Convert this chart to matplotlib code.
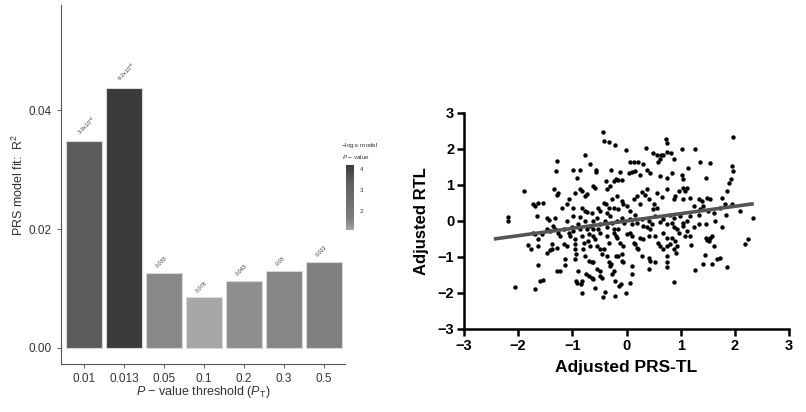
import matplotlib
matplotlib.use("Agg")
import matplotlib.pyplot as plt
import numpy as np
from matplotlib.colors import LinearSegmentedColormap, Normalize

plt.rcParams['font.family'] = ['Liberation Sans', 'DejaVu Sans']
plt.rcParams['mathtext.fontset'] = 'custom'
plt.rcParams['mathtext.rm'] = 'Liberation Sans'
plt.rcParams['mathtext.it'] = 'Liberation Sans:italic'

# ---- bar panel data ----
thresholds = ['0.01', '0.013', '0.05', '0.1', '0.2', '0.3', '0.5']
r2 = [0.0348, 0.0438, 0.0126, 0.0085, 0.0113, 0.0129, 0.0145]
p_labels = [r'3.8x10$^{-4}$', r'6.2x10$^{-5}$', '0.033', '0.078', '0.043', '0.03', '0.022']
p_values = [3.8e-4, 6.2e-5, 0.033, 0.078, 0.043, 0.03, 0.022]

# ---- scatter panel data ----
prs_tl = [
    -0.43, -0.41, -0.33, -0.21, -0.01, 0.36, 0.73, 0.75, 1.97, 1.02, 1.27, -0.76,
    -1.29, -1.30, -0.68, -0.57, -0.28, -0.98, -0.86, -0.92, -0.56, 0.07, 0.13, 0.22,
    0.31, 0.49, 0.56, 0.63, 0.68, 0.75, 0.82, 0.62, 0.59, 0.87, 1.35, 1.55, 1.95,
    1.97, 1.92, 1.89, 1.85, 1.46, 1.13, 1.02, 1.05, 0.84, 0.62, 0.75, 0.38, 0.44,
    0.10, 0.16, 0.25, 0.04, -0.12, -0.19, -0.15, -0.09, -0.24, -0.38, -0.30, -0.36,
    -0.61, -0.58, -0.86, -0.83, -0.95, -0.73, -0.76, -1.89, -1.34, -1.26, -1.29,
    -1.73, -1.69, -1.63, -1.55, -1.20, -2.18, -2.18, -1.66, -1.47, -1.44, -1.32,
    -1.10, -0.98, -0.86, -0.73, -0.64, -0.52, -0.49, -0.41, -0.38, -0.27, -0.24,
    -0.18, -0.09, -0.06, 0.01, 0.07, 0.13, 0.20, 0.28, 0.35, 0.41, 0.50, 0.38,
    0.56, 0.65, 0.75, 0.87, 0.90, 0.96, 1.05, 1.08, 1.11, 1.04, 1.17, 1.24, 1.33,
    1.39, 1.48, 1.55, 1.76, 1.82, 1.84, 1.42, 1.51, 1.73, 1.95, 2.09, 2.33, 1.61,
    1.33, 1.18, 1.11, 0.99, 1.05, 0.81, 0.87, 0.84, 0.68, 0.75, 0.53, 0.62, 0.41,
    0.47, 0.28, 0.31, 0.16, 0.19, 0.07, 0.10, -0.09, -0.04, -0.18, -0.15, -0.30,
    -0.27, -0.24, -0.39, -0.36, -0.49, -0.55, -0.67, -0.61, -0.76, -0.89, -0.86,
    -1.01, -0.98, -1.07, -1.04, -1.16, -1.26, -1.23, -1.35, -1.32, -1.47, -1.41,
    -1.56, -1.63, -1.72, -1.69, -1.63, -1.82, -1.76, -1.38, -1.29, -1.38, -1.16,
    -1.10, -1.47, -1.41, -1.64, -1.13, -1.13, -1.29, -1.23, -1.69, -1.60, -1.55,
    -2.05, -0.95, -0.95, -0.95, -0.93, -0.95, -0.83, -0.79, -0.81, -0.72, -0.68,
    -0.76, -0.70, -0.64, -0.61, -0.89, -0.93, -0.92, -0.84, -0.83, -0.83, -0.75,
    -0.70, -0.64, -0.61, -0.55, -0.49, -0.49, -0.46, -0.58, -0.43, -0.39, -0.55,
    -0.49, -0.46, -0.62, -0.58, -0.36, -0.33, -0.42, -0.36, -0.33, -0.31, -0.29,
    -0.24, -0.27, -0.19, -0.15, -0.09, -0.21, -0.13, -0.10, -0.21, -0.01, -0.18,
    -0.12, -0.06, -0.24, -0.19, -0.09, -0.06, 0.10, 0.10, 0.07, 0.01, 0.07, 0.10,
    0.13, 0.19, 0.16, 0.22, 0.25, 0.31, 0.38, 0.44, 0.41, 0.28, 0.41, 0.44, 0.53,
    0.41, 0.53, 0.59, 0.62, 0.68, 0.75, 0.68, 0.75, 0.80, 0.75, 0.75, 0.75, 0.87,
    0.93, 0.84, 0.90, 0.94, 0.87, 0.92, 1.05, 1.11, 1.08, 0.96, 1.18, 1.24, 1.19,
    0.87, 1.27, 1.42, 1.58, 1.44, 1.67, 1.72, 1.85, 1.46, 1.49, 1.52, 1.55, 1.58,
    1.47, 1.61, 1.76, 2.19, 2.25, 1.64, 1.33, 1.36, 0.49, 0.57, 0.25, -0.15, -0.36,
    -0.33, -0.83, -0.76, -0.98, -1.07, -1.10, -0.73, -0.70, -0.52, -0.49, -0.61,
]
rtl = [
    2.46, 2.22, 2.19, 2.10, 1.97, 2.03, 2.29, 2.17, 2.34, 2.01, 2.01, 1.82,
    1.68, 1.38, 1.57, 1.43, 1.43, 1.43, 1.43, 1.20, 1.36, 1.63, 1.63, 1.63,
    1.57, 1.89, 1.82, 1.82, 1.82, 1.91, 1.88, 1.71, 1.63, 1.71, 1.63, 1.60, 1.52,
    1.39, 1.17, 1.06, 0.83, 1.20, 1.48, 1.29, 1.17, 1.32, 1.25, 1.20, 1.43, 1.34,
    1.36, 1.39, 1.27, 1.32, 1.36, 1.17, 1.14, 1.15, 1.11, 1.11, 0.97, 0.88,
    0.97, 0.92, 0.88, 0.83, 0.78, 0.74, 0.69, 0.83, 0.88, 0.78, 0.71,
    0.46, 0.42, 0.51, 0.49, 0.37, 0.12, 0.00, 0.14, 0.09, 0.03, 0.09,
    0.00, 0.14, 0.12, 0.25, 0.21, 0.37, 0.28, 0.51, 0.46, 0.60, 0.37,
    0.69, 0.55, 0.46, 0.42, 0.28, 0.60, 0.69, 0.80, 0.71, 0.60, 0.46, 0.88,
    0.78, 0.67, 0.88, 0.60, 0.69, 0.83, 0.92, 0.83, 0.92, 0.60, 0.65, 0.42, 0.60,
    0.55, 0.65, 0.60, 0.65, 0.46, 0.18, 0.42, 0.28, 0.37, 0.46, 0.28, 0.09, 0.23,
    0.18, 0.14, 0.00, 0.14, -0.05, 0.18, 0.09, -0.05, 0.05, -0.09, 0.14, -0.03, 0.00,
    -0.09, 0.05, -0.14, 0.18, -0.05, 0.05, -0.09, 0.09, -0.05, 0.00, -0.23, 0.14,
    -0.05, -0.23, 0.00, -0.18, -0.09, 0.09, -0.14, -0.23, 0.00, -0.09, -0.23,
    -0.18, -0.28, -0.32, -0.42, -0.23, -0.32, -0.42, -0.14, -0.23, -0.23, -0.28,
    -0.37, -0.51, -0.32, -0.37, -0.69, -0.67, -0.78, -0.65, -0.74, -0.78, -0.65,
    -0.69, -0.88, -0.80, -1.23, -1.06, -1.23, -1.39, -1.39, -1.88, -1.66, -1.63,
    -1.82, -0.51, -0.65, -0.78, -0.92, -1.06, -0.42, -0.60, -0.78, -0.55, -0.69,
    -0.97, -1.11, -1.15, -1.15, -1.39, -1.66, -1.71, -1.75, -1.66, -2.00, -1.48,
    -1.52, -1.57, -1.62, -1.34, -1.39, -1.52, -1.57, -1.85, -2.10, -1.97, -0.69,
    -0.78, -0.92, -0.42, -0.51, -0.42, -0.60, -0.78, -0.97, -1.15, -1.25, -1.20,
    -1.39, -1.48, -0.97, -0.97, -0.92, -1.66, -1.80, -1.75, -2.08, -2.01, -0.46,
    -0.60, -0.69, -0.32, -0.42, -1.11, -1.15, -1.25, -1.48, -1.71, -0.37, -0.32,
    -0.42, -0.60, -0.74, -0.65, -0.78, -0.46, -0.51, -0.18, -0.23, -0.42, -0.97,
    -1.02, -1.11, -1.15, -1.34, -0.42, -0.60, -0.69, -0.32, -0.46, -0.78, -0.69,
    -0.65, -0.97, -1.15, -1.29, -0.18, -0.23, -0.46, -0.55, -0.69, -0.77, -0.88,
    -0.14, -0.28, -0.42, -0.32, -0.42, -0.18, -0.67, -1.69, -1.36, -1.20, -1.20,
    -0.95, -1.06, -1.02, -1.29, -0.46, -0.52, -0.55, -0.46, -0.42, -0.09, -0.69,
    -0.18, -0.65, -0.51, 0.00, -0.09, 0.32, 0.32, 0.37, 0.46, 0.32, 0.23, 0.37,
    0.37, 0.28, 0.37, 0.60, 0.46, -0.23, -0.37, -0.23, -0.32, 0.00,
]
fit_x = [-2.45, 2.35]
fit_y = [-0.50, 0.48]

fig = plt.figure(figsize=(8.06, 4.12), dpi=100)

# ---------------- left: bar chart ----------------
ax1 = fig.add_axes([61 / 806, 48 / 412, 284 / 806, 359 / 412])
neglog = -np.log10(p_values)
vmin, vmax = neglog.min(), neglog.max()
# grey ramp, brightness picked off the reference bars
nodes = [(0.0, '#a6a6a6'), (0.09, '#8c8c8c'), (0.2, '#7c7c7c'),
         (0.74, '#5e5e5e'), (1.0, '#3a3a3a')]
cmap = LinearSegmentedColormap.from_list('greys_pt', nodes)
norm = Normalize(vmin=vmin, vmax=vmax)
xpos = np.arange(len(thresholds))
ax1.bar(xpos, r2, width=0.9, color=cmap(norm(neglog)), edgecolor='#d8d8d8', linewidth=0.8)
for x, h, lab in zip(xpos, r2, p_labels):
    ax1.text(x - 0.22, h + 0.0007, lab, rotation=45, fontsize=3.9, ha='left', va='bottom',
             color='#333333')
ax1.set_xlim(-0.575, 6.525)
ax1.set_ylim(-0.0027, 0.0577)
ax1.set_xticks(xpos)
ax1.set_xticklabels(thresholds)
ax1.set_yticks([0, 0.02, 0.04])
ax1.set_yticklabels(['0.00', '0.02', '0.04'])
ax1.tick_params(labelsize=8.5, colors='#444444', length=3, width=0.6, labelcolor='#333333')
for s in ['top', 'right']:
    ax1.spines[s].set_visible(False)
for s in ['left', 'bottom']:
    ax1.spines[s].set_color('#555555')
    ax1.spines[s].set_linewidth(0.8)
ax1.set_ylabel(r'PRS model fit:  R$^2$', fontsize=9, color='#333333', labelpad=2)
ax1.set_xlabel(r'$P$ $-$ value threshold ($P_{\mathrm{T}}$)', fontsize=9, color='#333333', labelpad=-1)

# colour bar legend
cax = fig.add_axes([346 / 806, 182 / 412, 8 / 806, 65 / 412])
sm = plt.cm.ScalarMappable(norm=norm, cmap=cmap)
cb = fig.colorbar(sm, cax=cax, ticks=[2, 3, 4])
cb.outline.set_visible(False)
cb.ax.tick_params(labelsize=4.5, length=2, width=0.5, colors='white', labelcolor='#333333', pad=2)
fig.text(360 / 806, 1 - 146 / 412, r'$-$log$_{10}$ model', fontsize=4.5, ha='center', va='center', color='#333333')
fig.text(356 / 806, 1 - 157 / 412, r'$P$ $-$ value', fontsize=4.5, ha='center', va='center', color='#333333')

# ---------------- right: scatter ----------------
ax2 = fig.add_axes([464 / 806, 83 / 412, 325 / 806, 216 / 412])
ax2.scatter(prs_tl, rtl, s=10, color='black', linewidths=0, zorder=3)
ax2.plot(fit_x, fit_y, color='#555555', linewidth=2.6, zorder=4, solid_capstyle='butt')
ax2.set_xlim(-3, 3)
ax2.set_ylim(-3, 3)
ax2.set_xticks(range(-3, 4))
ax2.set_yticks(range(-3, 4))
for s in ['top', 'right']:
    ax2.spines[s].set_visible(False)
for s in ['left', 'bottom']:
    ax2.spines[s].set_linewidth(1.8)
ax2.tick_params(direction='out', length=5, width=1.8, labelsize=10.5, pad=2)
for lab in ax2.get_xticklabels() + ax2.get_yticklabels():
    lab.set_fontweight('bold')
ax2.set_xlabel('Adjusted PRS-TL', fontsize=12.5, fontweight='bold', labelpad=5)
ax2.set_ylabel('Adjusted RTL', fontsize=12, fontweight='bold', labelpad=6)

fig.savefig('out.png', dpi=100)
